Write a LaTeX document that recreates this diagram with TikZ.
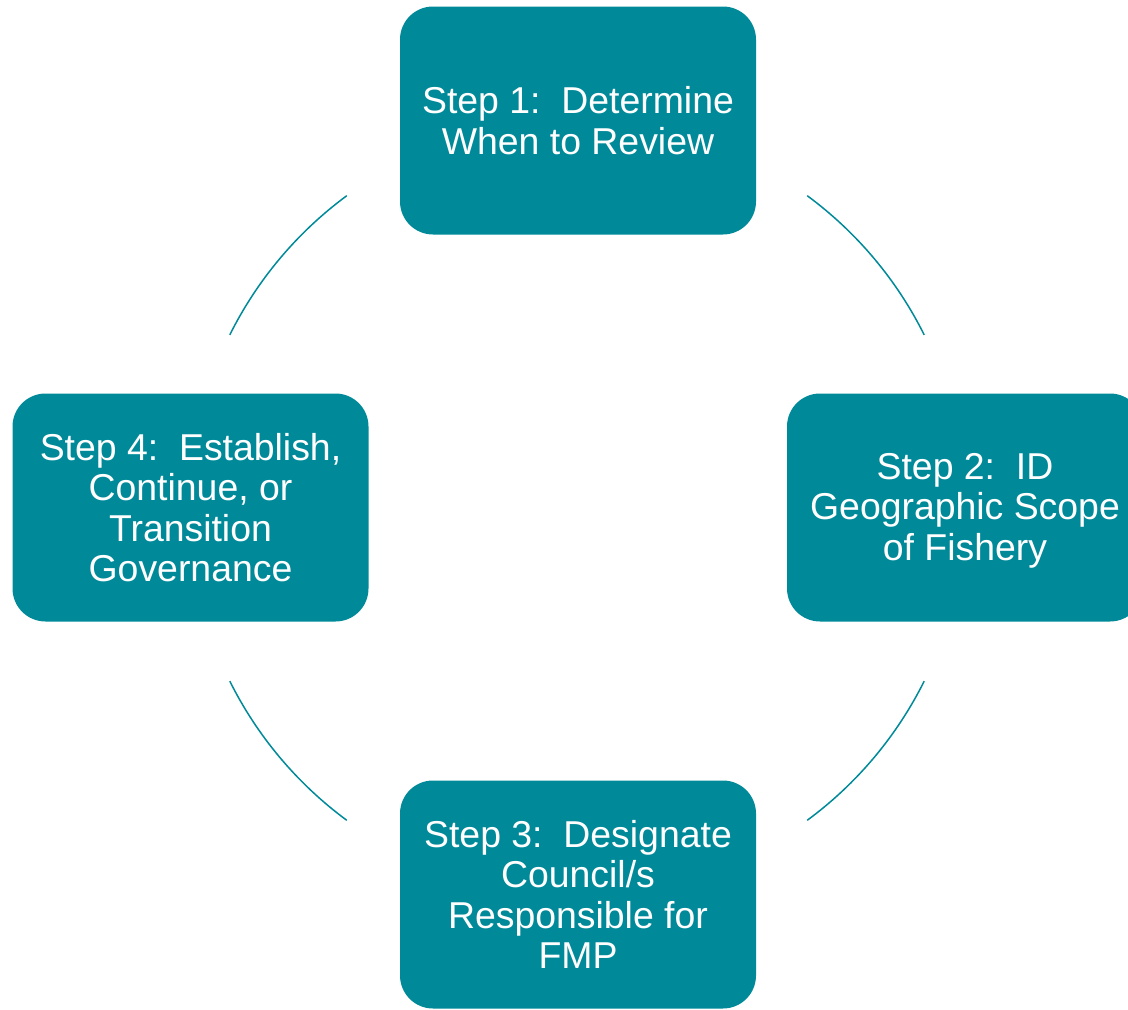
\documentclass[tikz,border=0pt]{standalone}
\usepackage{fontspec}
\setmainfont{Liberation Sans}
\definecolor{teal1}{HTML}{008A99}
\begin{document}
\begin{tikzpicture}[x=1pt,y=-1pt,
  stepbox/.style={rectangle, rounded corners=33pt, fill=teal1, draw=none,
    minimum width=356pt, minimum height=228pt, inner sep=0pt,
    text=white, align=center, font=\fontsize{37.4}{40.5}\selectfont},
  cyc/.style={draw=teal1, line width=1.5pt}]
\useasboundingbox (0,0) rectangle (1128,1010);
\clip (0,0) rectangle (1128,1010);
\coordinate (c) at (577,508);
\node[stepbox] (s1) at (578,120.5) {Step 1:\ \ Determine\\When to Review};
\node[stepbox] (s2) at (965,507.5) {};
\node[text=white, align=center, font=\fontsize{37.4}{40.5}\selectfont] (t2) at (965,510.5) {Step 2:\ \ ID\\Geographic Scope\\of Fishery};
\node[stepbox] (s3) at (578,894.5) {Step 3:\ \ Designate\\Council/s\\Responsible for\\FMP};
\node[stepbox] (s4) at (190.5,507.5) {Step 4:\ \ Establish,\\Continue, or\\Transition\\Governance};
% cycle arcs (y axis flipped)
\draw[cyc] (c) ++(-53.6:388) arc[start angle=-53.6, end angle=-26.5, radius=388];
\draw[cyc] (c) ++(26.5:388) arc[start angle=26.5, end angle=53.6, radius=388];
\draw[cyc] (c) ++(126.4:388) arc[start angle=126.4, end angle=153.5, radius=388];
\draw[cyc] (c) ++(206.5:388) arc[start angle=206.5, end angle=233.6, radius=388];
\end{tikzpicture}
\end{document}
